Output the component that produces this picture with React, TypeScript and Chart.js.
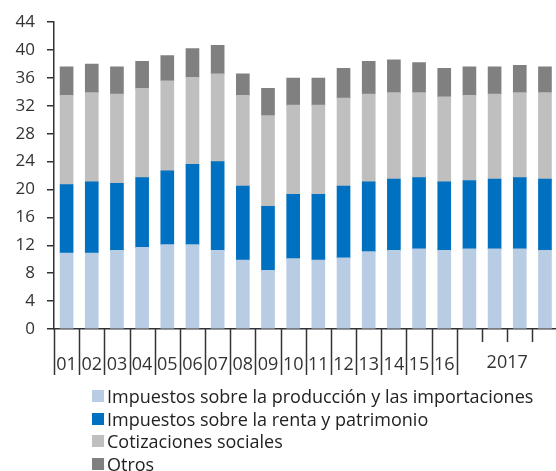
import React, { useEffect, useRef } from "react";
import { Chart, registerables } from "chart.js";

Chart.register(...registerables);

const categories = ["01","02","03","04","05","06","07","08","09","10","11","12","13","14","15","16","2017T1","2017T2","2017T3","2017T4"];
const tickLabels = ["01","02","03","04","05","06","07","08","09","10","11","12","13","14","15","16","","","",""];
const groupLabel = "2017";
const groupStart = 16;

const produccion = [10.9,10.9,11.3,11.7,12.1,12.1,11.3,9.9,8.4,10.1,9.9,10.2,11.1,11.3,11.5,11.3,11.5,11.5,11.5,11.3];
const renta = [9.8,10.2,9.6,10.0,10.6,11.5,12.7,10.6,9.2,9.2,9.4,10.3,10.0,10.2,10.2,9.8,9.8,10.0,10.2,10.2];
const cotizaciones = [12.8,12.8,12.8,12.8,12.9,12.5,12.6,13.0,13.0,12.8,12.8,12.6,12.6,12.4,12.2,12.2,12.2,12.2,12.2,12.4];
const otros = [4.1,4.1,3.9,3.9,3.6,4.1,4.1,3.1,3.9,3.9,3.9,4.3,4.7,4.7,4.3,4.1,4.1,3.9,3.9,3.7];

const seriesNames = [
  "Impuestos sobre la producción y las importaciones",
  "Impuestos sobre la renta y patrimonio",
  "Cotizaciones sociales",
  "Otros",
];
const colors = ["#b8cce4", "#0070c0", "#bfbfbf", "#808080"];

const FONT = "'Open Sans', sans-serif";

const separatorPlugin = {
  id: "separators",
  afterDraw(chart: any) {
    const x = chart.scales.x;
    const ctx = chart.ctx;
    const bottom = chart.chartArea.bottom;
    const half = (x.getPixelForValue(1) - x.getPixelForValue(0)) / 2;
    ctx.save();
    ctx.strokeStyle = "#333";
    ctx.lineWidth = 1.5;
    for (let i = 0; i <= categories.length; i++) {
      const px = i < categories.length ? x.getPixelForValue(i) - half : x.getPixelForValue(i - 1) + half;
      const isShort = i > groupStart && i < categories.length;
      const len = isShort ? 13 : 46;
      ctx.beginPath();
      ctx.moveTo(Math.round(px) + 0.5, bottom);
      ctx.lineTo(Math.round(px) + 0.5, bottom + len);
      ctx.stroke();
    }
    const gx = (x.getPixelForValue(groupStart) + x.getPixelForValue(categories.length - 1)) / 2;
    ctx.fillStyle = "#333";
    ctx.font = `18px ${FONT}`;
    ctx.textAlign = "center";
    ctx.textBaseline = "middle";
    ctx.fillText(groupLabel, gx, bottom + 34);
    ctx.restore();
  },
};

export default function App() {
  const ref = useRef<HTMLCanvasElement | null>(null);
  useEffect(() => {
    if (!ref.current) return;
    const datasets = [produccion, renta, cotizaciones, otros].map((d, i) => ({
      label: seriesNames[i],
      data: d,
      backgroundColor: colors[i],
      borderWidth: 0,
      barThickness: 13,
    }));
    const chart = new Chart(ref.current, {
      type: "bar",
      data: { labels: categories, datasets },
      options: {
        responsive: false,
        animation: false,
        layout: { padding: { top: 10, right: 2, bottom: 7, left: 0 } },
        plugins: { legend: { display: false }, tooltip: { enabled: false } },
        scales: {
          x: {
            stacked: true,
            grid: { display: false, drawTicks: false },
            border: { display: true, color: "#333", width: 1.5 },
            ticks: {
              autoSkip: false,
              maxRotation: 0,
              padding: 25,
              color: "#333",
              font: { family: FONT, size: 18 },
              callback: (_v: any, i: number) => tickLabels[i],
            },
            afterFit: (s: any) => { s.height = 54; },
          },
          y: {
            stacked: true,
            min: 0,
            max: 44,
            grid: { drawOnChartArea: false, drawTicks: true, tickLength: 7, color: "#333", lineWidth: 1.5 },
            border: { display: true, color: "#333", width: 1.5 },
            ticks: {
              stepSize: 4,
              padding: 12,
              color: "#333",
              font: { family: FONT, size: 17 },
            },
            afterFit: (s: any) => { s.width = 54; },
          },
        },
      },
      plugins: [separatorPlugin],
    });
    return () => chart.destroy();
  }, []);

  return (
    <div style={{ position: "absolute", left: 0, top: 0, width: 556, height: 471, overflow: "hidden", background: "#fff" }}>
      <canvas ref={ref} width={570} height={390} style={{ position: "absolute", left: 0, top: 0 }} />
      <div style={{ position: "absolute", left: 92, top: 385, fontFamily: FONT, fontSize: 18, color: "#222", lineHeight: "22.5px" }}>
        {seriesNames.map((n, i) => (
          <div key={n} style={{ display: "flex", alignItems: "center", whiteSpace: "nowrap" }}>
            <span style={{ display: "inline-block", width: 12, height: 12, background: colors[i], marginRight: 3 }} />
            <span>{n}</span>
          </div>
        ))}
      </div>
    </div>
  );
}
